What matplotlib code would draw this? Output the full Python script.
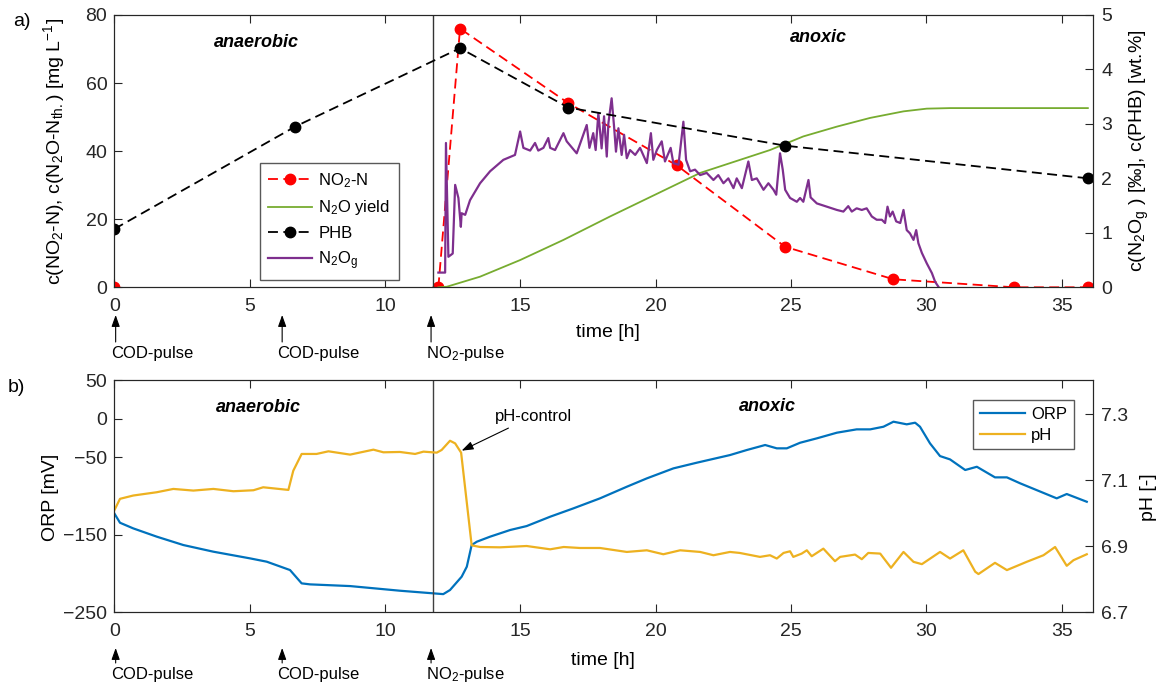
import numpy as np
import matplotlib
matplotlib.use("Agg")
import matplotlib.pyplot as plt
from matplotlib.transforms import blended_transform_factory, offset_copy

plt.rcParams['font.family'] = ['Liberation Sans', 'DejaVu Sans']
plt.rcParams['mathtext.fontset'] = 'custom'
plt.rcParams['mathtext.rm'] = 'Liberation Sans'
plt.rcParams['mathtext.it'] = 'Liberation Sans:italic'
plt.rcParams['mathtext.bf'] = 'Liberation Sans:bold'

# ---------------- data: panel a ----------------
no2_t = [0, np.nan, 11.97, 12.77, 16.77, 20.78, 24.78, 28.78, 33.24, 35.98]
no2_c = [0, np.nan, 0, 76.0, 54.1, 35.8, 11.9, 2.35, 0, 0]

phb_t = [0, 6.68, 12.77, 16.77, 24.78, 35.98]
phb_c = [1.07, 2.95, 4.39, 3.30, 2.60, 2.00]

yield_t = [11.97, 12.28, 13.51, 14.99, 16.59, 18.31, 21.64, 24.22, 25.45, 26.69,
           27.92, 29.15, 30.01, 30.87, 35.96]
yield_v = [0, 0.01, 0.195, 0.50, 0.87, 1.30, 2.10, 2.52, 2.77, 2.95,
           3.11, 3.23, 3.28, 3.29, 3.29]

n2og_t = [11.97, 12.22, 12.25, 12.34, 12.50, 12.59, 12.71, 12.80, 12.83, 12.96,
          13.14, 13.51, 13.88, 14.37, 14.80, 14.99, 15.11, 15.36, 15.54, 15.66,
          15.85, 16.03, 16.10, 16.28, 16.59, 16.71, 17.08, 17.45, 17.55, 17.69,
          17.78, 17.88, 18.00, 18.09, 18.19, 18.25, 18.37, 18.46, 18.53, 18.62,
          18.74, 18.83, 18.93, 19.05, 19.24, 19.42, 19.67, 19.82, 19.91, 20.04,
          20.22, 20.34, 20.55, 20.65, 20.84, 21.02, 21.12, 21.27, 21.45, 21.64,
          21.88, 22.13, 22.31, 22.50, 22.68, 22.87, 22.99, 23.18, 23.42, 23.55,
          23.73, 23.98, 24.16, 24.35, 24.45, 24.59, 24.69, 24.78, 24.96, 25.21,
          25.33, 25.45, 25.64, 25.72, 25.95, 26.32, 26.69, 26.93, 27.11, 27.24,
          27.42, 27.61, 27.79, 27.98, 28.16, 28.35, 28.47, 28.56, 28.65, 28.75,
          28.88, 29.03, 29.15, 29.27, 29.39, 29.52, 29.62, 29.70, 29.83, 30.01,
          30.20, 30.32, 30.44]
n2og_v = [0.27, 0.27, 2.65, 0.56, 0.62, 1.88, 1.64, 1.11, 1.36, 1.33,
          1.60, 1.91, 2.13, 2.34, 2.43, 2.86, 2.56, 2.51, 2.65, 2.51,
          2.56, 2.74, 2.56, 2.52, 2.83, 2.68, 2.46, 2.98, 2.56, 2.83,
          2.52, 3.20, 2.55, 3.14, 2.40, 3.01, 3.47, 2.95, 2.49, 2.92,
          2.43, 2.80, 2.37, 2.52, 2.43, 2.56, 2.28, 2.83, 2.34, 2.52,
          2.68, 2.31, 2.56, 2.28, 2.25, 3.04, 2.34, 2.13, 2.16, 2.06,
          2.10, 1.97, 2.06, 1.91, 2.00, 1.82, 2.00, 1.82, 2.31, 1.97,
          2.00, 1.79, 1.91, 1.79, 1.70, 2.46, 2.16, 1.79, 1.64, 1.57,
          1.64, 1.57, 1.97, 1.65, 1.54, 1.48, 1.42, 1.39, 1.49, 1.39,
          1.45, 1.42, 1.45, 1.30, 1.24, 1.24, 1.18, 1.48, 1.30, 1.39,
          1.21, 1.18, 1.42, 1.05, 0.99, 0.87, 1.05, 0.81, 0.63, 0.44,
          0.26, 0.10, 0.01]

# ---------------- data: panel b ----------------
orp_t = [0, 0.21, 0.70, 1.57, 2.55, 3.66, 5.01, 5.63, 6.49, 6.92, 7.23, 8.71,
         10.55, 12.15, 12.40, 12.83, 13.02, 13.20, 13.39, 13.88, 14.62, 15.23,
         16.10, 16.96, 17.94, 18.93, 19.67, 20.65, 21.51, 22.74, 23.36, 24.04,
         24.47, 24.84, 25.33, 25.95, 26.69, 27.42, 27.92, 28.41, 28.78, 29.27,
         29.58, 29.76, 30.13, 30.50, 30.87, 31.43, 31.86, 32.53, 32.97, 33.46,
         34.81, 35.18, 35.92]
orp_v = [-122.2, -134.3, -141.6, -152.3, -163.1, -171.7, -180.3, -184.6, -195.4,
         -212.6, -213.9, -216.1, -222.1, -226.5, -221.2, -204.0, -191.1, -163.1,
         -158.8, -152.3, -143.7, -138.6, -126.5, -115.7, -102.8, -87.8, -77.0,
         -64.1, -56.8, -46.9, -40.4, -33.9, -38.2, -38.2, -31.0, -25.3, -18.0,
         -13.7, -13.7, -10.3, -3.8, -7.2, -5.1, -10.3, -31.8, -48.2, -52.5,
         -66.2, -62.0, -75.7, -75.7, -83.4, -102.8, -97.2, -107.2]

ph_t = [0, 0.21, 0.70, 1.57, 2.18, 2.92, 3.66, 4.40, 5.14, 5.50, 6.43, 6.61,
        6.92, 7.47, 7.91, 8.71, 9.57, 9.94, 10.55, 11.11, 11.42, 11.91, 12.09,
        12.40, 12.59, 12.81, 13.20, 13.51, 14.25, 15.23, 16.10, 16.60, 17.20,
        17.94, 18.93, 19.67, 20.28, 20.90, 21.64, 22.13, 22.74, 23.10, 23.85,
        24.22, 24.47, 24.72, 24.96, 25.08, 25.39, 25.58, 25.76, 26.19, 26.62,
        26.81, 27.36, 27.61, 27.85, 28.29, 28.69, 29.15, 29.52, 29.83, 30.50,
        30.87, 31.36, 31.80, 31.92, 32.53, 32.97, 33.70, 34.32, 34.75, 35.18,
        35.43, 35.92]
ph_v = [7.009, 7.044, 7.054, 7.064, 7.074, 7.069, 7.074, 7.067, 7.070, 7.079,
        7.071, 7.129, 7.180, 7.180, 7.188, 7.178, 7.193, 7.185, 7.186, 7.180,
        7.187, 7.184, 7.192, 7.220, 7.212, 7.184, 6.903, 6.898, 6.897, 6.901,
        6.891, 6.898, 6.895, 6.895, 6.883, 6.888, 6.876, 6.888, 6.883, 6.873,
        6.883, 6.880, 6.868, 6.873, 6.863, 6.880, 6.885, 6.868, 6.878, 6.888,
        6.870, 6.893, 6.855, 6.868, 6.875, 6.861, 6.880, 6.878, 6.835, 6.883,
        6.853, 6.846, 6.883, 6.863, 6.888, 6.823, 6.816, 6.850, 6.828, 6.853,
        6.873, 6.898, 6.841, 6.858, 6.876]

pulse_t = [0.05, 6.2, 11.7]
pulse_labels = ['COD-pulse', 'COD-pulse', 'NO$_2$-pulse']
phase_switch = 11.78

# ---------------- styling ----------------
RED = '#FF0000'
GREEN = '#77AC30'
PURPLE = '#7E2F8E'
BLUE = '#0072BD'
ORANGE = '#EDB120'
AXC = '#262626'
TICK_FS = 14
LAB_FS = 14

fig = plt.figure(figsize=(11.64, 6.86), dpi=100)
ax1 = fig.add_axes([0.0982, 0.5812, 0.8408, 0.397])
ax2 = fig.add_axes([0.0982, 0.1074, 0.8408, 0.3386])
ax1r = ax1.twinx()
ax2r = ax2.twinx()


def style_axes(a, ar):
    a.set_xlim(0, 36.15)
    a.set_xticks([0, 5, 10, 15, 20, 25, 30, 35])
    a.tick_params(axis='x', direction='in', top=True, bottom=True, length=6,
                  width=0.8, labelsize=TICK_FS, pad=8, colors=AXC)
    a.tick_params(axis='y', direction='in', left=True, right=False, length=6,
                  width=0.8, labelsize=TICK_FS, pad=5, colors=AXC)
    ar.tick_params(axis='y', direction='in', right=True, left=False, length=6,
                   width=0.8, labelsize=TICK_FS, pad=6, colors=AXC)
    for s in list(a.spines.values()) + list(ar.spines.values()):
        s.set_color(AXC)
        s.set_linewidth(0.8)


style_axes(ax1, ax1r)
style_axes(ax2, ax2r)

# ---------- panel a ----------
ax1.set_ylim(0, 80)
ax1.set_yticks([0, 20, 40, 60, 80])
ax1r.set_ylim(0, 5)
ax1r.set_yticks([0, 1, 2, 3, 4, 5])

l_no2, = ax1.plot(no2_t, no2_c, color=RED, lw=1.3, ls='--', dashes=(5.5, 3),
                  marker='o', ms=7.5, mec=RED, mfc=RED, label='NO$_2$-N')
ax1.axvline(phase_switch, color='0.2', lw=1.0)
l_yield, = ax1r.plot(yield_t, yield_v, color=GREEN, lw=1.3, label='N$_2$O yield')
l_n2og, = ax1r.plot(n2og_t, n2og_v, color=PURPLE, lw=1.6, label='N$_2$O$_\\mathrm{g}$')
l_phb, = ax1r.plot(phb_t, phb_c, color='k', lw=1.3, ls='--', dashes=(5.5, 3),
                   marker='o', ms=7.5, label='PHB')

ax1.set_ylabel('c(NO$_2$-N), c(N$_2$O-N$_\\mathrm{th.}$) [mg L$^{-1}$]', fontsize=LAB_FS)
ax1.yaxis.set_label_coords(-0.048, 0.5)
ax1r.set_ylabel('c(N$_2$O$_\\mathrm{g}$ ) [‰], c(PHB) [wt.%]', fontsize=LAB_FS, rotation=90)
ax1r.yaxis.set_label_coords(1.036, 0.5)
ax1.set_xlabel('time [h]', fontsize=LAB_FS, va='top')
ax1.xaxis.set_label_coords(0.504, -0.135)

ax1.text(5.26, 71.9, 'anaerobic', fontsize=13, fontweight='bold',
         fontstyle='italic', ha='center', va='center')
ax1.text(26.0, 73.3, 'anoxic', fontsize=13, fontweight='bold',
         fontstyle='italic', ha='center', va='center')

leg1 = ax1r.legend([l_no2, l_yield, l_phb, l_n2og],
                   ['NO$_2$-N', 'N$_2$O yield', 'PHB', 'N$_2$O$_\\mathrm{g}$'],
                   loc='lower left', bbox_to_anchor=(0.149, 0.027),
                   fontsize=12, frameon=True, fancybox=False, framealpha=1,
                   edgecolor='0.35', handlelength=2.6, numpoints=1,
                   borderpad=0.5, labelspacing=0.5, handletextpad=0.4,
                   borderaxespad=0)
leg1.get_frame().set_linewidth(1.0)

# ---------- panel b ----------
ax2.set_ylim(-250, 50)
ax2.set_yticks([50, 0, -50, -150, -250])
ax2r.set_ylim(6.7, 7.404)
ax2r.set_yticks([6.7, 6.9, 7.1, 7.3])
ax2r.set_yticklabels(['6.7', '6.9', '7.1', '7.3'])

l_orp, = ax2.plot(orp_t, orp_v, color=BLUE, lw=1.6, label='ORP')
ax2.axvline(phase_switch, color='0.25', lw=1.0)
l_ph, = ax2r.plot(ph_t, ph_v, color=ORANGE, lw=1.6, label='pH')

ax2.set_ylabel('ORP [mV]', fontsize=LAB_FS)
ax2.yaxis.set_label_coords(-0.056, 0.495)
ax2r.set_ylabel('pH [-]', fontsize=LAB_FS, rotation=90)
ax2r.yaxis.set_label_coords(1.048, 0.496)
ax2.set_xlabel('time [h]', fontsize=LAB_FS, va='top')
ax2.xaxis.set_label_coords(0.4993, -0.17)

ax2.text(5.33, 14.2, 'anaerobic', fontsize=13, fontweight='bold',
         fontstyle='italic', ha='center', va='center')
ax2.text(24.13, 15.5, 'anoxic', fontsize=13, fontweight='bold',
         fontstyle='italic', ha='center', va='center')

ax2r.annotate('pH-control', xy=(12.83, 7.19), xycoords='data',
              xytext=(14.06, 7.295), textcoords='data', fontsize=12,
              ha='left', va='center',
              arrowprops=dict(arrowstyle='-|>,head_length=0.7,head_width=0.25',
                              color='k', lw=0.8, shrinkA=3, shrinkB=0,
                              mutation_scale=10))

leg2 = ax2r.legend([l_orp, l_ph], ['ORP', 'pH'], loc='upper right',
                   bbox_to_anchor=(0.9806, 0.914), fontsize=12, frameon=True,
                   fancybox=False, framealpha=1, edgecolor='0.35',
                   handlelength=2.7, borderpad=0.4, labelspacing=0.35,
                   handletextpad=0.4, borderaxespad=0)
leg2.get_frame().set_linewidth(1.0)

# ---------- pulse arrows ----------
def pulses(a, y_head, y_tail, y_text):
    tr = blended_transform_factory(a.transData, fig.transFigure)
    for t, lab in zip(pulse_t, pulse_labels):
        a.annotate('', xy=(t, y_head), xycoords=tr, xytext=(t, y_tail),
                   textcoords=tr, annotation_clip=False,
                   arrowprops=dict(arrowstyle='-|>,head_length=0.7,head_width=0.25',
                                   color='k', lw=0.8, shrinkA=0, shrinkB=0,
                                   mutation_scale=10))
        a.text(t, y_text, lab, transform=offset_copy(tr, fig=fig, x=-5, y=0,
                                                      units='dots'),
               ha='left', va='center', fontsize=12, clip_on=False)


pulses(ax1, 1 - 315 / 686, 1 - 342 / 686, 1 - 353 / 686)
pulses(ax2, 1 - 648 / 686, 1 - 663 / 686, 1 - 675 / 686)

fig.text(0.011, 1 - 22 / 686, 'a)', fontsize=14, va='center', ha='left')
fig.text(0.007, 1 - 388 / 686, 'b)', fontsize=14, va='center', ha='left')

fig.savefig('out.png', dpi=100)
